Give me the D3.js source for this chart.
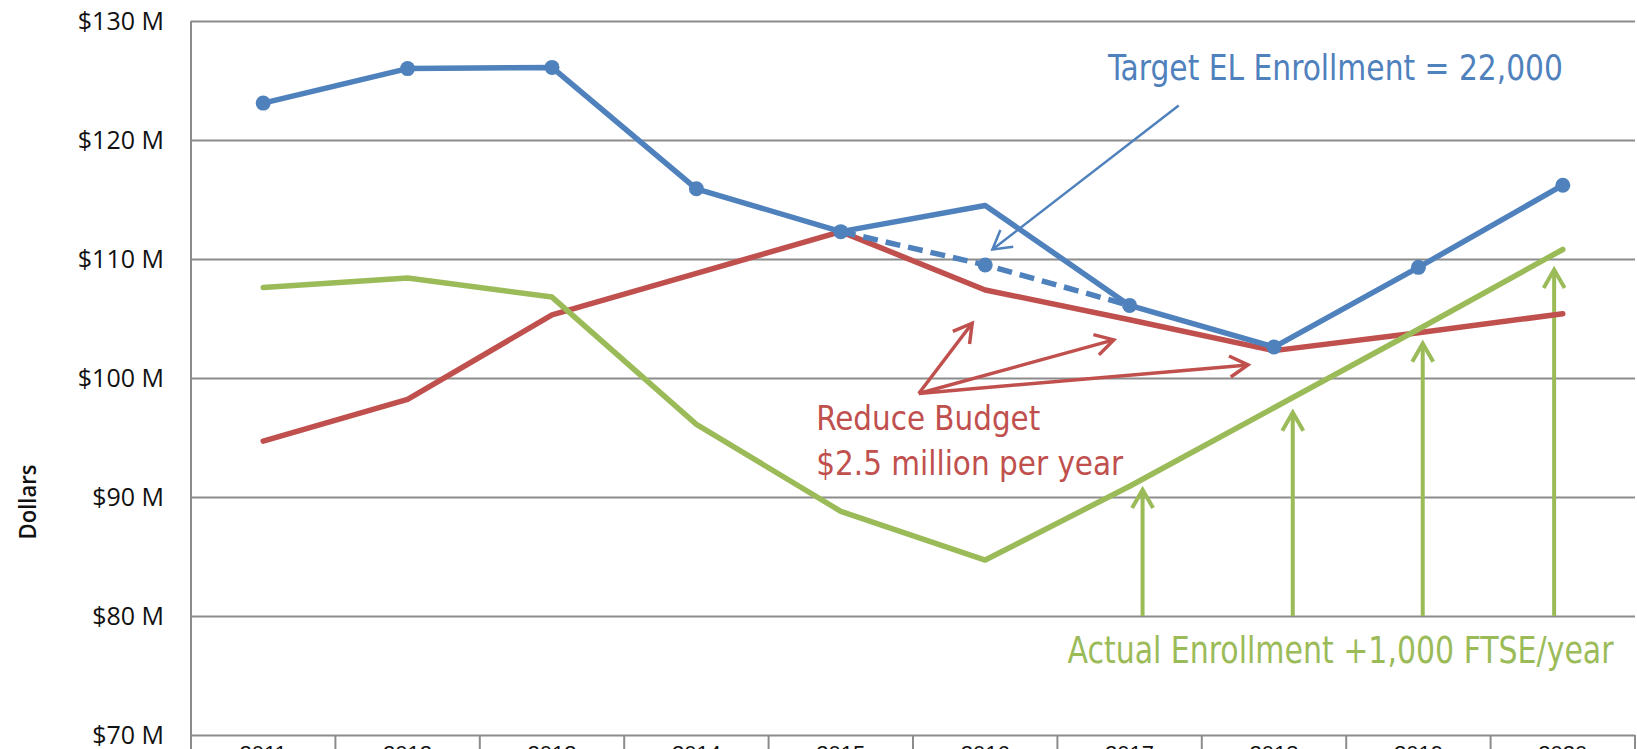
<!DOCTYPE html>
<html>
<head>
<meta charset="utf-8">
<script src="https://cdn.jsdelivr.net/npm/d3@7"></script>
<style>
  body { margin: 0; background: #fff; overflow: hidden; }
  svg { display: block; }
</style>
</head>
<body>
<div class="chart"></div>
<script>
// values, in $ millions
const years = ['2011', '2012', '2013', '2014', '2015', '2016', '2017', '2018', '2019', '2020'];
const targetSolid = [123.1, 126.0, 126.1, 115.9, 112.3, 114.5, 106.1, 102.6, 109.3, 116.2];
const targetMarked = [true, true, true, true, true, false, true, true, true, true];
const targetDashed = [null, null, null, null, 112.3, 109.5, 106.1, null, null, null];
const budget = [94.7, 98.2, 105.3, 108.8, 112.3, 107.4, 104.9, 102.3, 103.8, 105.4];
const actual = [107.6, 108.4, 106.8, 96.1, 88.8, 84.7, 90.9, 97.5, 104.1, 110.8];
const yTicks = [70, 80, 90, 100, 110, 120, 130];

// annotation anchors in (year index, $M)
const blueArrow = { from: [6.34, 122.9], to: [5.05, 110.8] };
const redOrigin = [4.54, 98.7];
const redTips = [[4.91, 104.6], [5.89, 103.2], [6.82, 101.1]];
const greenTips = [[6.09, 90.6], [7.13, 97.1], [8.03, 102.9], [8.94, 109.1]];
const greenBase = 80;

const blue = '#4F81BD', red = '#C0504D', green = '#9BBB59', grid = '#8c8c8c';

const margin = { top: 21, right: 2, bottom: 14, left: 191 };
const W = 1637, H = 749;
const width = W - margin.left - margin.right;
const height = H - margin.top - margin.bottom;

const svg = d3.select('.chart')
  .append('svg')
  .attr('width', W)
  .attr('height', H)
  .append('g')
  .attr('transform', `translate(${margin.left},${margin.top})`);

const x = d3.scaleBand()
  .domain(years)
  .range([0, width])
  .padding(0);

const bw = x.bandwidth();
const xi = d3.scaleLinear() // fractional year index -> px, for annotations
  .domain([0, years.length - 1])
  .range([bw / 2, width - bw / 2]);

const y = d3.scaleLinear()
  .domain([70, 130])
  .range([height, 0]);

//y axis + gridlines
const yAxis = d3.axisLeft(y)
  .tickValues(yTicks)
  .tickSize(-width)
  .tickPadding(27)
  .tickFormat(d => `$${d} M`);

const yg = svg.append('g').call(yAxis);
yg.select('.domain').remove();
yg.selectAll('.tick line').attr('stroke', grid).attr('stroke-width', 2);
yg.selectAll('.tick text')
  .attr('fill', '#111')
  .style('font-family', '"Open Sans", sans-serif')
  .style('font-size', '25px');

// left axis line
svg.append('line')
  .attr('x1', 0).attr('x2', 0)
  .attr('y1', 0).attr('y2', height + 20)
  .attr('stroke', grid).attr('stroke-width', 2);

// category dividers below the axis
svg.selectAll('.divider')
  .data(years)
  .enter()
  .append('line')
  .attr('class', 'divider')
  .attr('x1', d => x(d) + bw)
  .attr('x2', d => x(d) + bw)
  .attr('y1', height)
  .attr('y2', height + 20)
  .attr('stroke', grid)
  .attr('stroke-width', 2);

// year labels (only their tops show, as in the reference)
svg.selectAll('.xlabel')
  .data(years)
  .enter()
  .append('text')
  .attr('class', 'xlabel')
  .attr('x', d => x(d) + bw / 2)
  .attr('y', height + 26)
  .attr('text-anchor', 'middle')
  .attr('fill', '#111')
  .style('font-family', '"Liberation Sans", Arial, sans-serif')
  .style('font-size', '22px')
  .text(d => d);

// y title
svg.append('text')
  .attr('transform', `translate(${36 - margin.left},${502 - margin.top}) rotate(-90)`)
  .attr('text-anchor', 'middle')
  .attr('fill', '#111')
  .attr('textLength', 75)
  .attr('lengthAdjust', 'spacingAndGlyphs')
  .style('font-family', '"Open Sans", sans-serif')
  .style('font-weight', 600)
  .style('font-size', '23px')
  .text('Dollars');

//arrows
function arrow(x1, y1, x2, y2, color, sw, head) {
  const ang = Math.atan2(y2 - y1, x2 - x1);
  const a = Math.PI / 6;
  svg.append('line')
    .attr('x1', x1).attr('y1', y1)
    .attr('x2', x2).attr('y2', y2)
    .attr('stroke', color)
    .attr('stroke-width', sw);
  const pts = [
    [x2 - head * Math.cos(ang - a), y2 - head * Math.sin(ang - a)],
    [x2, y2],
    [x2 - head * Math.cos(ang + a), y2 - head * Math.sin(ang + a)]
  ];
  svg.append('path')
    .attr('d', d3.line()(pts))
    .attr('fill', 'none')
    .attr('stroke', color)
    .attr('stroke-width', sw)
    .attr('stroke-linejoin', 'miter');
}

greenTips.forEach(t => {
  arrow(xi(t[0]), y(greenBase), xi(t[0]), y(t[1]), green, 4, 21);
});
redTips.forEach(t => {
  arrow(xi(redOrigin[0]), y(redOrigin[1]), xi(t[0]), y(t[1]), red, 3.5, 21);
});
arrow(xi(blueArrow.from[0]), y(blueArrow.from[1]), xi(blueArrow.to[0]), y(blueArrow.to[1]), blue, 2.5, 21);

//series lines
const line = d3.line()
  .defined(d => d != null)
  .x((d, i) => x(years[i]) + bw / 2)
  .y(d => y(d));

svg.append('path')
  .datum(budget)
  .attr('d', line)
  .attr('fill', 'none')
  .attr('stroke', red)
  .attr('stroke-width', 5.5)
  .attr('stroke-linejoin', 'round')
  .attr('stroke-linecap', 'round');

svg.append('path')
  .datum(actual)
  .attr('d', line)
  .attr('fill', 'none')
  .attr('stroke', green)
  .attr('stroke-width', 5.5)
  .attr('stroke-linejoin', 'round')
  .attr('stroke-linecap', 'round');

svg.append('path')
  .datum(targetDashed)
  .attr('d', line)
  .attr('fill', 'none')
  .attr('stroke', blue)
  .attr('stroke-width', 5.5)
  .attr('stroke-dasharray', '15,8');

svg.append('path')
  .datum(targetSolid)
  .attr('d', line)
  .attr('fill', 'none')
  .attr('stroke', blue)
  .attr('stroke-width', 5.5)
  .attr('stroke-linejoin', 'round')
  .attr('stroke-linecap', 'round');

const markers = targetSolid.map((v, i) => ({ i, v }))
  .filter(d => targetMarked[d.i])
  .concat(targetDashed.map((v, i) => ({ i, v })).filter(d => d.v != null && !targetMarked[d.i]));

svg.selectAll('.dot')
  .data(markers)
  .enter()
  .append('circle')
  .attr('class', 'dot')
  .attr('cx', d => x(years[d.i]) + bw / 2)
  .attr('cy', d => y(d.v))
  .attr('r', 7.5)
  .attr('fill', blue);

//annotation text
function note(txt, xv, yv, color, size, len) {
  svg.append('text')
    .attr('x', xi(xv))
    .attr('y', y(yv))
    .attr('fill', color)
    .attr('textLength', len)
    .attr('lengthAdjust', 'spacingAndGlyphs')
    .style('font-family', '"Liberation Sans Narrow", "DejaVu Sans Condensed", sans-serif')
    .style('font-size', `${size}px`)
    .text(txt);
}

note('Target EL Enrollment = 22,000', 5.85, 125.04, blue, 35, 455);
note('Reduce Budget', 3.83, 95.63, red, 34, 224);
note('$2.5 million per year', 3.83, 91.85, red, 34, 307);
note('Actual Enrollment +1,000 FTSE/year', 5.57, 76.05, green, 38, 546);
</script>
</body>
</html>
